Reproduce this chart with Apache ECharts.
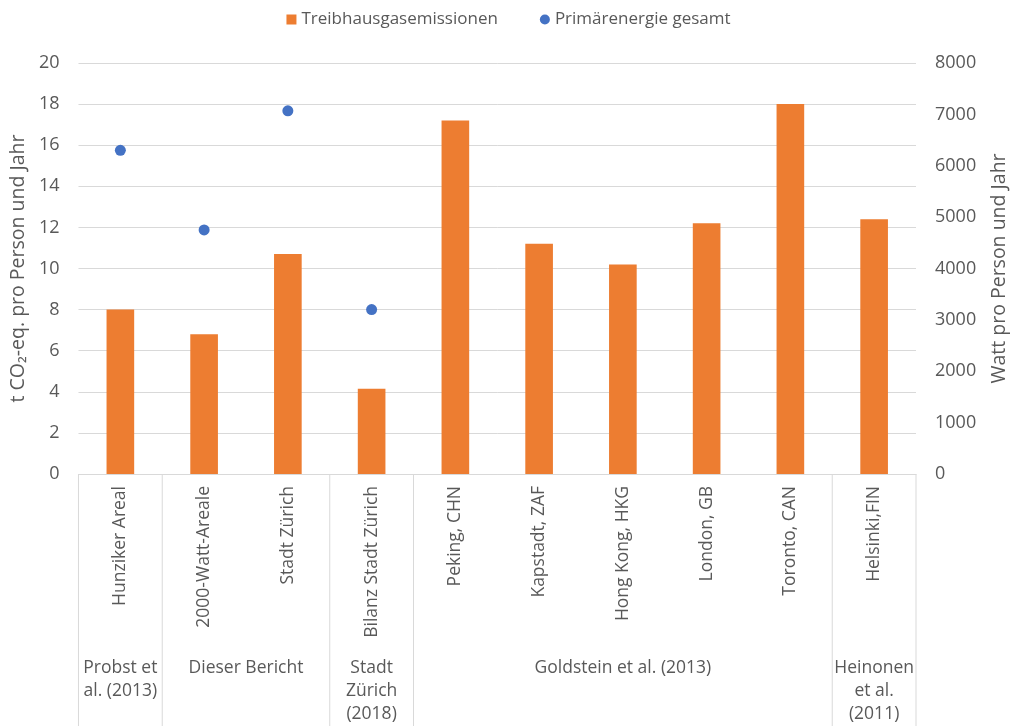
<!DOCTYPE html>
<html>
<head>
<meta charset="utf-8">
<script src="https://cdn.jsdelivr.net/npm/echarts@6/dist/echarts.min.js"></script>
<style>
  html, body { margin: 0; padding: 0; background: #fff; }
  #chart { width: 1017px; height: 726px; }
</style>
</head>
<body>
<div id="chart"></div>
<script>
// Categories along the x axis
const categories = ['Hunziker Areal', '2000-Watt-Areale', 'Stadt Zürich', 'Bilanz Stadt Zürich',
  'Peking, CHN', 'Kapstadt, ZAF', 'Hong Kong, HKG', 'London, GB', 'Toronto, CAN', 'Helsinki,FIN'];
// Greenhouse gas emissions, t CO2-eq. per person and year
const emissions = [8.0, 6.8, 10.7, 4.15, 17.2, 11.2, 10.2, 12.2, 18.0, 12.4];
// Total primary energy, watt per person (only for the first four)
const primaryEnergy = [6300, 4750, 7070, 3200, null, null, null, null, null, null];
// Source groups below the category labels and how many categories each covers
const groupLabels = ['Probst et\nal. (2013)', 'Dieser Bericht', 'Stadt\nZürich\n(2018)', 'Goldstein et al. (2013)', 'Heinonen\net al.\n(2011)'];
const groupSpans = [1, 2, 1, 5, 1];
// Axis tick settings
const leftTicks = { min: 0, max: 20, interval: 2 };
const rightTicks = { min: 0, max: 8000, interval: 1000 };

const txt = '#595959';
const gridCol = '#d9d9d9';
const font = 'Open Sans';

const chart = echarts.init(document.getElementById('chart'));
chart.setOption({
  animation: false,
  textStyle: { fontFamily: font },
  legend: {
    top: 6,
    left: 'center',
    itemGap: 42,
    itemWidth: 10,
    itemHeight: 10,
    textStyle: { color: txt, fontSize: 17, fontFamily: font },
    data: [
      { name: 'Treibhausgasemissionen', icon: 'rect' },
      { name: 'Primärenergie gesamt', icon: 'circle' }
    ]
  },
  grid: { left: 77, right: 92, top: 63, bottom: 252, containLabel: false },
  xAxis: {
    type: 'category',
    data: categories,
    axisTick: { show: false },
    axisLine: { show: true, lineStyle: { color: gridCol, width: 1 } },
    axisLabel: { rotate: 90, color: txt, fontSize: 17.5, margin: 12, fontFamily: font, interval: 0 }
  },
  yAxis: [
    {
      type: 'value', ...leftTicks,
      name: 't CO₂-eq. pro Person und Jahr',
      nameLocation: 'middle', nameGap: 47, nameRotate: 90,
      nameTextStyle: { color: txt, fontSize: 19.5, fontFamily: font },
      axisLine: { show: false }, axisTick: { show: false },
      axisLabel: { color: txt, fontSize: 18, margin: 19 },
      splitLine: { lineStyle: { color: gridCol, width: 1 } }
    },
    {
      type: 'value', ...rightTicks,
      name: 'Watt pro Person und Jahr',
      nameLocation: 'middle', nameGap: 73, nameRotate: 90,
      nameTextStyle: { color: txt, fontSize: 19.5, fontFamily: font },
      axisLine: { show: false }, axisTick: { show: false },
      axisLabel: { color: txt, fontSize: 18, margin: 19, formatter: v => String(v) },
      splitLine: { show: false }
    }
  ],
  series: [
    {
      name: 'Treibhausgasemissionen',
      type: 'bar',
      data: emissions,
      barWidth: '33%',
      itemStyle: { color: '#ED7D31' }
    },
    {
      name: 'Primärenergie gesamt',
      type: 'scatter',
      yAxisIndex: 1,
      data: primaryEnergy,
      symbol: 'circle',
      symbolSize: 11,
      itemStyle: { color: '#4472C4', opacity: 1 }
    }
  ]
});

// Group separators and source labels beneath the category axis
function drawGroups() {
  const c0 = chart.convertToPixel({ xAxisIndex: 0 }, 0);
  const c1 = chart.convertToPixel({ xAxisIndex: 0 }, 1);
  const step = c1 - c0;
  const yBase = chart.convertToPixel({ yAxisIndex: 0 }, 0);
  const yEnd = 726;
  const elements = [];
  let idx = 0;
  const edge = i => c0 + (i - 0.5) * step;
  elements.push({ type: 'line', shape: { x1: edge(0), y1: yBase, x2: edge(0), y2: yEnd },
    style: { stroke: gridCol, lineWidth: 1 }, silent: true });
  groupSpans.forEach((span, g) => {
    const start = idx, end = idx + span;
    const xr = edge(end);
    elements.push({ type: 'line', shape: { x1: xr, y1: yBase, x2: xr, y2: yEnd },
      style: { stroke: gridCol, lineWidth: 1 }, silent: true });
    elements.push({
      type: 'text',
      x: (edge(start) + xr) / 2,
      y: yBase + 183,
      style: {
        text: groupLabels[g], fill: txt, fontSize: 17.5, fontFamily: font,
        align: 'center', verticalAlign: 'top', lineHeight: 23
      },
      silent: true
    });
    idx = end;
  });
  chart.setOption({ graphic: elements });
}
drawGroups();
</script>
</body>
</html>
